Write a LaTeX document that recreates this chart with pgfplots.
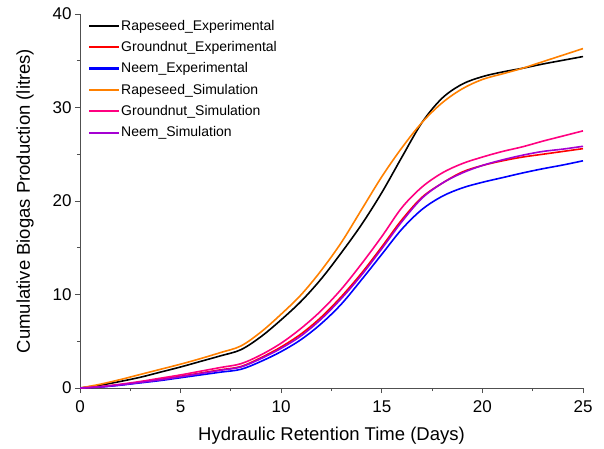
\documentclass[border=0pt]{standalone}
\usepackage{pgfplots}
\pgfplotsset{compat=1.18}
\usepackage{fontspec}
\setmainfont{Liberation Sans}
\usetikzlibrary{calc}
\definecolor{corange}{RGB}{255,128,0}
\definecolor{cpink}{RGB}{255,0,128}
\definecolor{cpurple}{RGB}{165,0,210}
\definecolor{axgray}{RGB}{80,80,80}
\begin{document}
\begin{tikzpicture}
\begin{axis}[
  scale only axis, width=503pt, height=374pt,
  xmin=0, xmax=25, ymin=0, ymax=40,
  axis x line*=bottom, axis y line*=left,
  axis line style={axgray, line width=1pt, -},
  xtick={0,5,...,25}, ytick={0,10,...,40},
  minor x tick num=1, minor y tick num=1,
  tick align=outside, major tick length=5pt, minor tick length=3pt,
  tick style={axgray, line width=0.9pt},
  /pgf/number format/assume math mode=true,
  ticklabel style={font=\fontsize{17}{20}\selectfont},
  xticklabel style={yshift=-4pt},
  label style={font=\fontsize{18.5}{22}\selectfont},
  xlabel={Hydraulic Retention Time (Days)},
  ylabel={Cumulative Biogas Production (litres)},
  xlabel shift=8pt, ylabel shift=12pt,
  legend style={at={(0.012,0.995)}, anchor=north west, draw=none, fill=none,
    font=\fontsize{14}{16.8}\selectfont, row sep=5.7pt},
  legend cell align=left,
  legend image code/.code={\fill[#1, draw=none] (0pt,-1.1pt) rectangle (30pt,1.1pt);},
  every axis plot/.append style={line width=1.6pt, smooth, tension=0.55},
]
\addplot[black] coordinates {(0,0)(1,0.3)(2,0.7)(3,1.15)(4,1.7)(5,2.25)(6,2.85)(7,3.45)(8,4.1)(9,5.5)(10,7.3)(11,9.3)(12,11.7)(13,14.5)(14,17.5)(15,20.9)(16,24.7)(17,28.4)(18,31.0)(19,32.5)(20,33.3)(21,33.8)(22,34.2)(23,34.65)(24,35.05)(25,35.45)};
\addlegendentry{Rapeseed\_Experimental}
\addplot[red] coordinates {(0,0)(1,0.13)(2,0.35)(3,0.62)(4,0.92)(5,1.25)(6,1.6)(7,1.95)(8,2.3)(9,3.25)(10,4.4)(11,5.8)(12,7.6)(13,9.8)(14,12.3)(15,15.1)(16,18.0)(17,20.4)(18,21.9)(19,23.1)(20,23.8)(21,24.3)(22,24.7)(23,25.0)(24,25.3)(25,25.6)};
\addlegendentry{Groundnut\_Experimental}
\addplot[blue] coordinates {(0,0)(1,0.1)(2,0.3)(3,0.55)(4,0.8)(5,1.1)(6,1.4)(7,1.7)(8,2.0)(9,2.85)(10,3.9)(11,5.2)(12,6.9)(13,9.0)(14,11.6)(15,14.3)(16,17.0)(17,19.1)(18,20.5)(19,21.4)(20,22.0)(21,22.5)(22,23.0)(23,23.45)(24,23.85)(25,24.3)};
\addlegendentry{Neem\_Experimental}
\addplot[corange] coordinates {(0,0)(1,0.4)(2,0.9)(3,1.45)(4,2.0)(5,2.55)(6,3.15)(7,3.8)(8,4.5)(9,6.0)(10,7.9)(11,10.0)(12,12.6)(13,15.6)(14,19.1)(15,22.6)(16,25.7)(17,28.4)(18,30.5)(19,32.0)(20,33.0)(21,33.6)(22,34.2)(23,34.9)(24,35.6)(25,36.3)};
\addlegendentry{Rapeseed\_Simulation}
\addplot[cpink] coordinates {(0,0)(1,0.15)(2,0.4)(3,0.7)(4,1.05)(5,1.4)(6,1.8)(7,2.2)(8,2.6)(9,3.55)(10,4.8)(11,6.4)(12,8.3)(13,10.6)(14,13.3)(15,16.2)(16,19.3)(17,21.5)(18,23.0)(19,24.0)(20,24.7)(21,25.3)(22,25.8)(23,26.4)(24,26.95)(25,27.5)};
\addlegendentry{Groundnut\_Simulation}
\addplot[cpurple] coordinates {(0,0)(1,0.12)(2,0.33)(3,0.6)(4,0.88)(5,1.2)(6,1.55)(7,1.9)(8,2.25)(9,3.15)(10,4.25)(11,5.6)(12,7.4)(13,9.6)(14,12.1)(15,14.9)(16,17.8)(17,20.3)(18,21.9)(19,23.0)(20,23.8)(21,24.4)(22,24.9)(23,25.3)(24,25.55)(25,25.85)};
\addlegendentry{Neem\_Simulation}
\end{axis}
\useasboundingbox ($(current axis.south west)+(-80pt,-60pt)$) rectangle ($(current axis.north east)+(21pt,14pt)$);
\end{tikzpicture}
\end{document}
